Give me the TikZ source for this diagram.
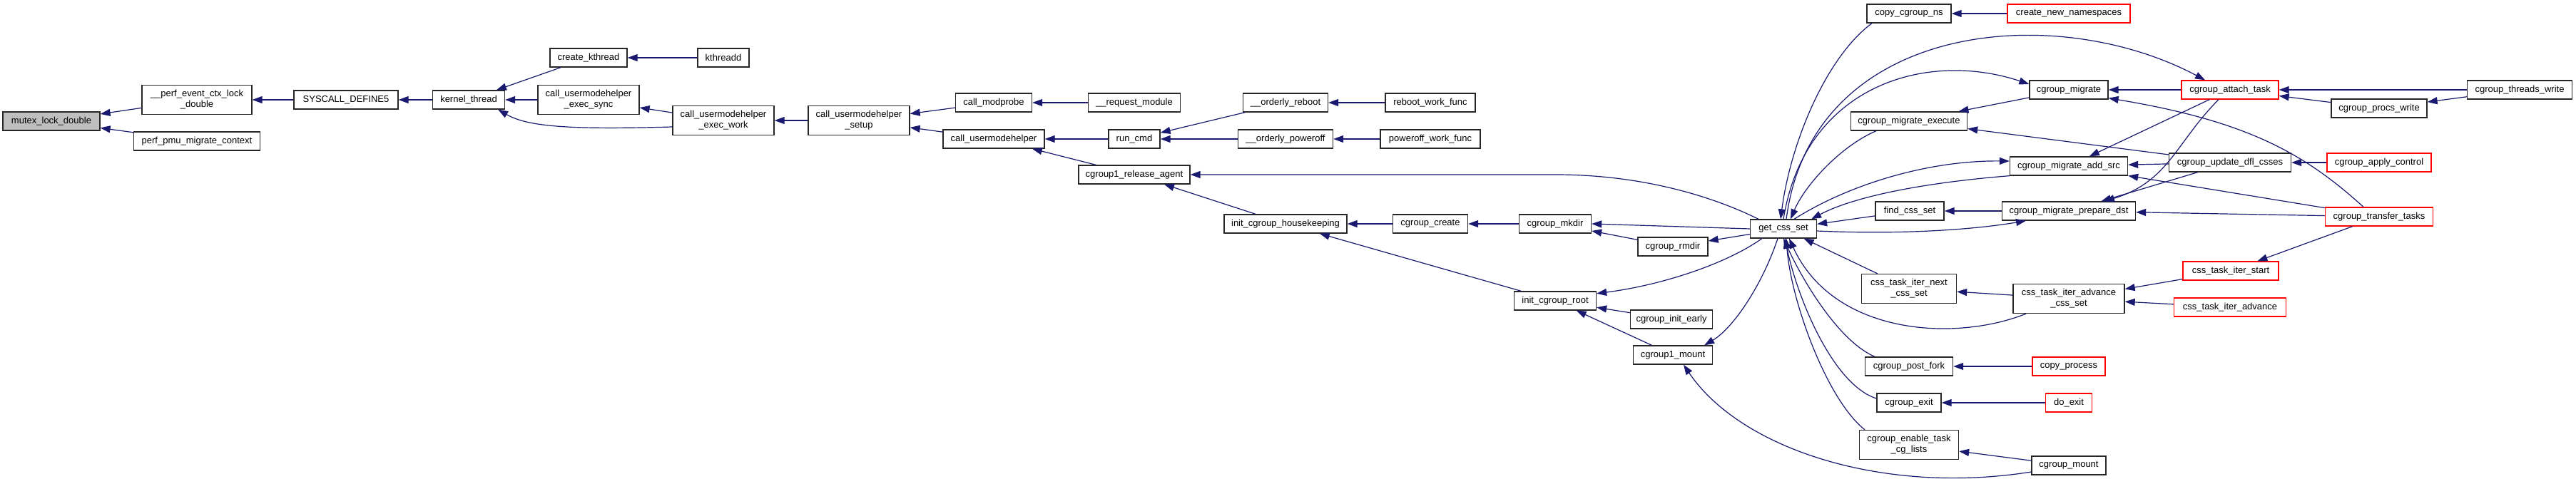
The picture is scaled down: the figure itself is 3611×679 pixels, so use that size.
\documentclass[tikz,border=0pt]{standalone}
\usepackage{fontspec}
\setmainfont{Liberation Sans}
\usepackage{xcolor}
\usepackage{tikz}
\usetikzlibrary{arrows.meta,positioning}
\definecolor{edgeblue}{HTML}{191970}

\begin{document}
\begin{tikzpicture}[x=1pt,y=-1pt,>={Triangle[length=14pt,width=10pt]},
  func/.style={draw=black!85,fill=white,line width=1.3pt,inner sep=2pt,minimum height=26pt,align=center,font=\fontsize{13}{15}\selectfont},
  twoline/.style={minimum height=41pt},
  rootfunc/.style={func,fill=black!25},
  truncfunc/.style={func,draw=red},
  call/.style={<-,line width=1.2pt,edgeblue}]
  \fill[white] (0,0) rectangle (3611,679);
  \useasboundingbox (0,0) rectangle (3611,679);

  \node[rootfunc,minimum width=136pt] (mutex) at (72,170) {mutex\_lock\_double};
  \node[func,twoline,minimum width=154pt] (perfctx) at (276,140) {\_\_perf\_event\_ctx\_lock\\\_double};
  \node[func,minimum width=177pt] (pmumig) at (276,198) {perf\_pmu\_migrate\_context};
  \node[func,minimum width=146pt] (sysdef5) at (485,140) {SYSCALL\_DEFINE5};
  \node[func,minimum width=101pt] (kthr) at (657,140) {kernel\_thread};
  \node[func,minimum width=108pt] (crkthr) at (825,81) {create\_kthread};
  \node[func,minimum width=72pt] (kthreadd) at (1014,81) {kthreadd};
  \node[func,twoline,minimum width=142pt] (umhsync) at (825,140) {call\_usermodehelper\\\_exec\_sync};
  \node[func,twoline,minimum width=142pt] (umhwork) at (1014,169) {call\_usermodehelper\\\_exec\_work};
  \node[func,twoline,minimum width=142pt] (umhsetup) at (1204,169) {call\_usermodehelper\\\_setup};
  \node[func,minimum width=107pt] (modprobe) at (1393,144) {call\_modprobe};
  \node[func,minimum width=129pt] (reqmod) at (1590,144) {\_\_request\_module};
  \node[func,minimum width=142pt] (umh) at (1393,195) {call\_usermodehelper};
  \node[func,minimum width=72pt] (runcmd) at (1590,195) {run\_cmd};
  \node[func,minimum width=119pt] (oreboot) at (1802,144) {\_\_orderly\_reboot};
  \node[func,minimum width=126pt] (rebootwf) at (2005,144) {reboot\_work\_func};
  \node[func,minimum width=133pt] (opoweroff) at (1802,195) {\_\_orderly\_poweroff};
  \node[func,minimum width=140pt] (poweroffwf) at (2005,195) {poweroff\_work\_func};
  \node[func,minimum width=156pt] (relagent) at (1590,245) {cgroup1\_release\_agent};
  \node[func,minimum width=172pt] (housekeep) at (1802,314) {init\_cgroup\_housekeeping};
  \node[func,minimum width=105pt] (cgcreate) at (2005,314) {cgroup\_create};
  \node[func,minimum width=101pt] (cgmkdir) at (2180,314) {cgroup\_mkdir};
  \node[func,minimum width=98pt] (cgrmdir) at (2345,346) {cgroup\_rmdir};
  \node[func,minimum width=115pt] (initroot) at (2180,422) {init\_cgroup\_root};
  \node[func,minimum width=115pt] (initearly) at (2343,448) {cgroup\_init\_early};
  \node[func,minimum width=111pt] (cg1mount) at (2345,498) {cgroup1\_mount};
  \node[func,minimum width=93pt] (getcss) at (2500,321) {get\_css\_set};
  \node[func,minimum width=118pt] (copyns) at (2676,19) {copy\_cgroup\_ns};
  \node[truncfunc,minimum width=172pt] (newns) at (2900,19) {create\_new\_namespaces};
  \node[func,minimum width=110pt] (migrate) at (2900,126) {cgroup\_migrate};
  \node[func,minimum width=163pt] (migexec) at (2676,170) {cgroup\_migrate\_execute};
  \node[func,minimum width=165pt] (addsrc) at (2900,233) {cgroup\_migrate\_add\_src};
  \node[func,minimum width=96pt] (findcss) at (2677,296) {find\_css\_set};
  \node[func,minimum width=187pt] (prepdst) at (2900,296) {cgroup\_migrate\_prepare\_dst};
  \node[func,twoline,minimum width=133pt] (itnext) at (2676,405) {css\_task\_iter\_next\\\_css\_set};
  \node[func,twoline,minimum width=156pt] (itadvcss) at (2900,419) {css\_task\_iter\_advance\\\_css\_set};
  \node[func,minimum width=123pt] (postfork) at (2676,514) {cgroup\_post\_fork};
  \node[truncfunc,minimum width=102pt] (copyproc) at (2900,514) {copy\_process};
  \node[func,minimum width=90pt] (cgexit) at (2676,565) {cgroup\_exit};
  \node[truncfunc,minimum width=65pt] (doexit) at (2900,565) {do\_exit};
  \node[func,twoline,minimum width=139pt] (enablecg) at (2676,624) {cgroup\_enable\_task\\\_cg\_lists};
  \node[func,minimum width=104pt] (cgmount) at (2900,653) {cgroup\_mount};
  \node[truncfunc,minimum width=136pt] (attach) at (3126,126) {cgroup\_attach\_task};
  \node[func,minimum width=147pt] (threadsw) at (3532,126) {cgroup\_threads\_write};
  \node[func,minimum width=134pt] (procsw) at (3335,152) {cgroup\_procs\_write};
  \node[func,minimum width=171pt] (updatedfl) at (3126,228) {cgroup\_update\_dfl\_csses};
  \node[truncfunc,minimum width=146pt] (applyctl) at (3335,228) {cgroup\_apply\_control};
  \node[truncfunc,minimum width=151pt] (transfer) at (3335,304) {cgroup\_transfer\_tasks};
  \node[truncfunc,minimum width=134pt] (itstart) at (3127,380) {css\_task\_iter\_start};
  \node[truncfunc,minimum width=157pt] (itadv) at (3126,431) {css\_task\_iter\_advance};

  \draw[call] (mutex) -- (perfctx);
  \draw[call] (mutex) -- (pmumig);
  \draw[call] (perfctx) -- (sysdef5);
  \draw[call] (sysdef5) -- (kthr);
  \draw[call] (kthr) -- (crkthr);
  \draw[call] (kthr) -- (umhsync);
  \draw[call] ([xshift=-10pt]kthr.south east) .. controls (740,178) and (800,182) .. ([yshift=-9pt]umhwork.west);
  \draw[call] (crkthr) -- (kthreadd);
  \draw[call] (umhsync) -- (umhwork);
  \draw[call] (umhwork) -- (umhsetup);
  \draw[call] (umhsetup) -- (modprobe);
  \draw[call] (umhsetup) -- (umh);
  \draw[call] (modprobe) -- (reqmod);
  \draw[call] (umh) -- (runcmd);
  \draw[call] (umh) -- (relagent);
  \draw[call] (runcmd) -- (oreboot);
  \draw[call] (runcmd) -- (opoweroff);
  \draw[call] (oreboot) -- (rebootwf);
  \draw[call] (opoweroff) -- (poweroffwf);
  \draw[call] (relagent.east) -- (2180,245) .. controls (2320,245) and (2420,285) .. ([xshift=12pt]getcss.north west);
  \draw[call] (relagent) -- (housekeep);
  \draw[call] (housekeep) -- (cgcreate);
  \draw[call] (housekeep) -- (initroot);
  \draw[call] (cgcreate) -- (cgmkdir);
  \draw[call] (cgmkdir.east) -- (getcss.west);
  \draw[call] (cgmkdir) -- (cgrmdir);
  \draw[call] (cgrmdir) -- (getcss);
  \draw[call] (initroot.10) .. controls (2330,400) and (2420,370) .. ([xshift=17pt]getcss.south west);
  \draw[call] (initroot) -- (initearly);
  \draw[call] (initroot) -- (cg1mount);
  \draw[call] ([xshift=-12pt]cg1mount.north east) .. controls (2430,460) and (2470,400) .. ([xshift=-8pt]getcss.south);
  \draw[call] ([xshift=15pt]cg1mount.south) .. controls (2440,630) and (2640,695) .. ([yshift=-9pt]cgmount.west);

  \draw[call] ([xshift=-4pt]getcss.north) .. controls (2510,200) and (2560,80) .. ([xshift=-52pt]copyns.south);
  \draw[call] (copyns) -- (newns);
  \draw[call] ([xshift=-35pt]attach.north) .. controls (2880,0) and (2540,30) .. ([xshift=4pt]getcss.north);
  \draw[call] ([yshift=8pt]migrate.west) .. controls (2700,70) and (2530,120) .. (getcss.north);
  \draw[call] ([xshift=10pt]getcss.north) .. controls (2530,260) and (2580,205) .. ([xshift=-46pt]migexec.south);
  \draw[call] (migexec) -- (migrate);
  \draw[call] (migexec) -- (updatedfl);
  \draw[call] ([yshift=7pt]addsrc.west) .. controls (2700,225) and (2590,260) .. ([xshift=15pt]getcss.north);
  \draw[call] ([xshift=-8pt]getcss.north east) .. controls (2600,275) and (2700,256) .. (addsrc.south west);
  \draw[call] (getcss) -- (findcss);
  \draw[call] (findcss) -- (prepdst);
  \draw[call] ([xshift=-60pt]prepdst.south) .. controls (2780,320) and (2680,330) .. ([yshift=-3pt]getcss.east);
  \draw[call] (getcss) -- (itnext);
  \draw[call] ([xshift=8pt]getcss.south) .. controls (2570,470) and (2740,480) .. ([xshift=-60pt]itadvcss.south);
  \draw[call] (getcss.south) .. controls (2530,400) and (2580,480) .. ([xshift=-48pt]postfork.north);
  \draw[call] ([xshift=2pt]getcss.south) .. controls (2520,420) and (2570,540) .. ([yshift=6pt]cgexit.west);
  \draw[call] ([xshift=4pt]getcss.south) .. controls (2510,420) and (2560,560) .. ([xshift=-62pt]enablecg.north);
  \draw[call] (itnext) -- (itadvcss);
  \draw[call] (postfork) -- (copyproc);
  \draw[call] (cgexit) -- (doexit);
  \draw[call] (enablecg) -- (cgmount);

  \draw[call] (migrate) -- (attach);
  \draw[call] ([yshift=2pt]migrate.south east) .. controls (3150,170) and (3230,215) .. ([xshift=-22pt]transfer.north);
  \draw[call] (attach) -- (threadsw);
  \draw[call] (attach) -- (procsw);
  \draw[call] (procsw) -- (threadsw);
  \draw[call] (addsrc) -- (attach);
  \draw[call] (addsrc) -- (updatedfl);
  \draw[call] (addsrc) -- (transfer);
  \draw[call] ([xshift=50pt]prepdst.north) .. controls (3040,255) and (3050,200) .. ([xshift=-16pt]attach.south);
  \draw[call] (prepdst) -- (updatedfl);
  \draw[call] (prepdst) -- (transfer);
  \draw[call] (updatedfl) -- (applyctl);
  \draw[call] (itadvcss) -- (itstart);
  \draw[call] (itadvcss) -- (itadv);
  \draw[call] (itstart) -- (transfer);
\end{tikzpicture}
\end{document}
